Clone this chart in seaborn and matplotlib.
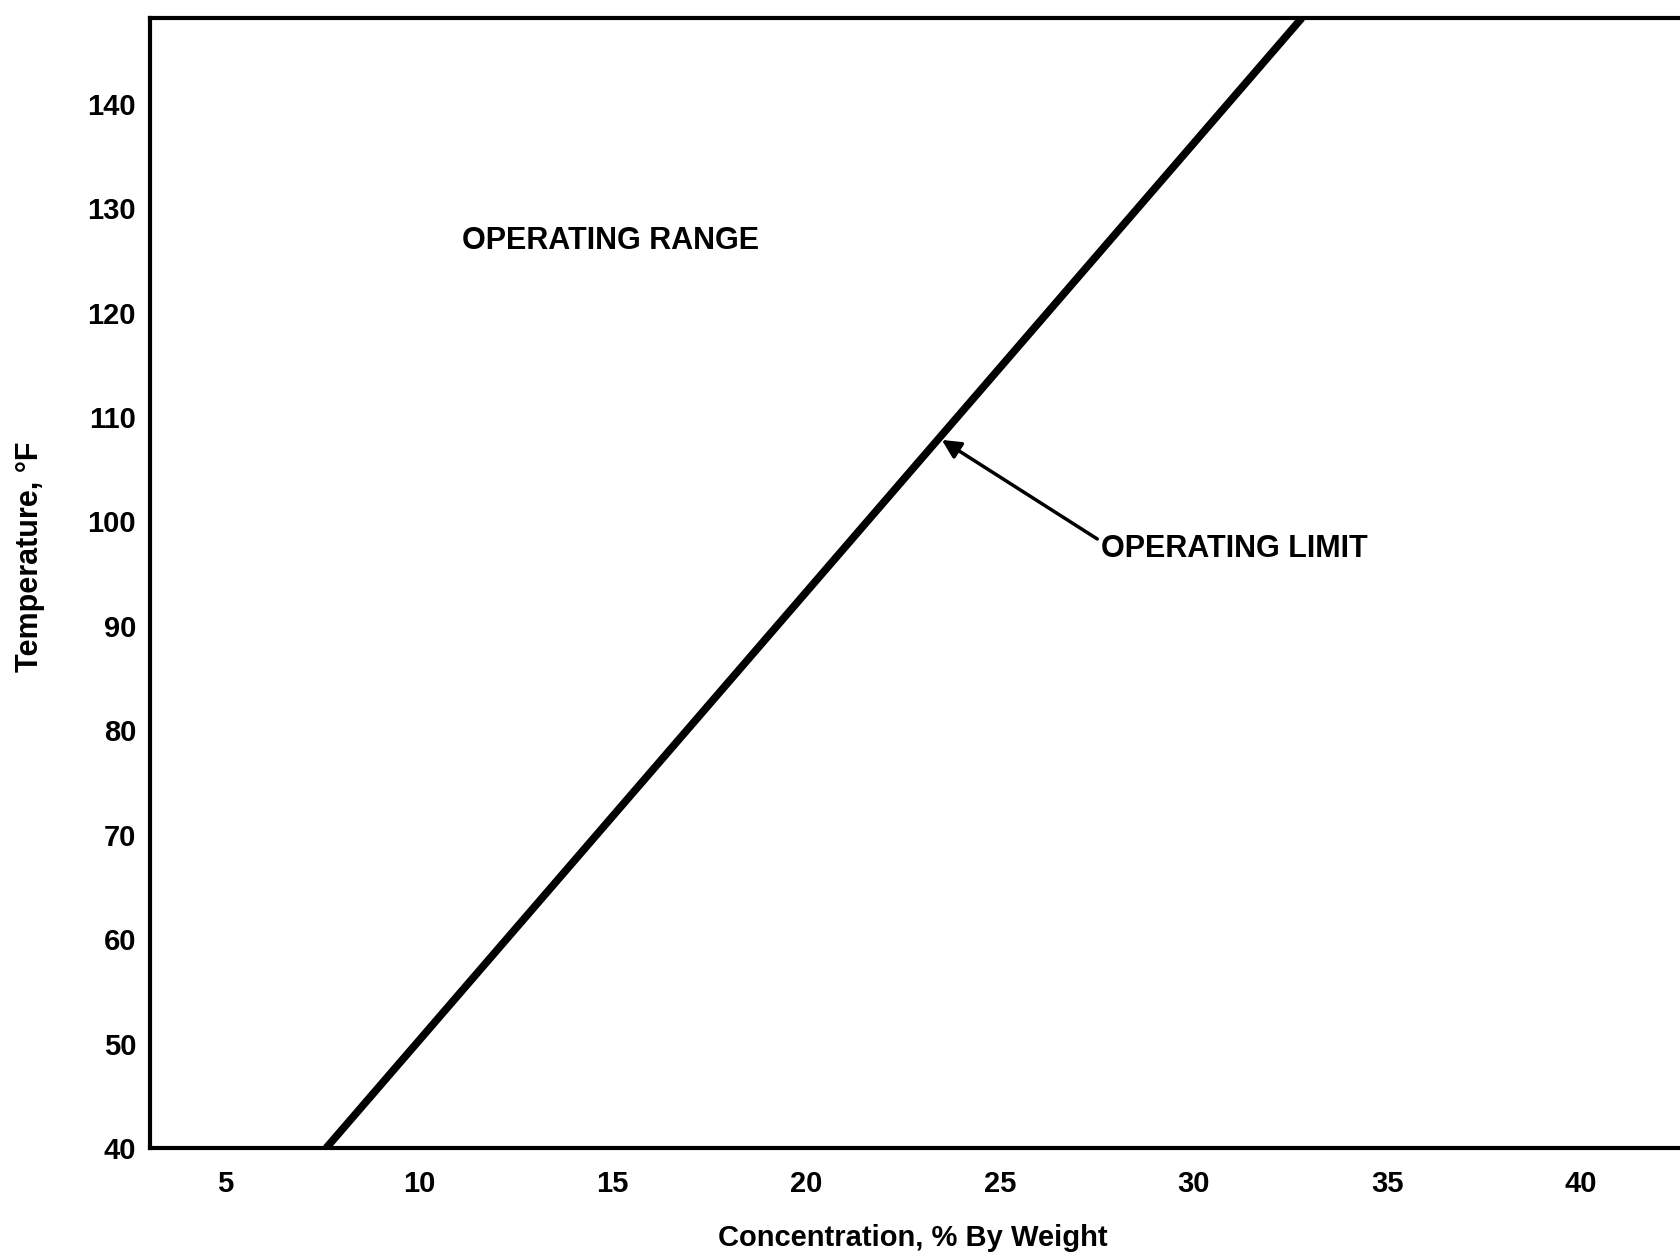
import matplotlib
matplotlib.use("Agg")
import matplotlib.pyplot as plt
import seaborn as sns
import pandas as pd

# Operating limit line (concentration % by weight vs temperature °F)
limit_conc = [7.6, 32.8]
limit_temp = [40, 148.2]

x_ticks = [5, 10, 15, 20, 25, 30, 35, 40]
y_ticks = [40, 50, 60, 70, 80, 90, 100, 110, 120, 130, 140]

arrow_tip = (23.5, 107.8)


def generate_plot():
    sns.set_theme(style="white")
    plt.rcParams['font.family'] = ['Liberation Sans', 'DejaVu Sans']
    plt.rcParams['font.weight'] = 'bold'
    plt.rcParams['text.color'] = 'black'
    plt.rcParams['axes.labelcolor'] = 'black'
    plt.rcParams['xtick.color'] = 'black'
    plt.rcParams['ytick.color'] = 'black'

    fig = plt.figure(figsize=(16.8, 12.55), dpi=100)
    ax = fig.add_axes([150 / 1680, 1 - 1148 / 1255, 1 - 150 / 1680 + 0.01, (1148 - 18) / 1255])

    df = pd.DataFrame({'conc': limit_conc, 'temp': limit_temp})
    sns.lineplot(data=df, x='conc', y='temp', color='black', linewidth=5.5,
                 solid_capstyle='butt', ax=ax)

    ax.set_xlim(3.05, 43.0)
    ax.set_ylim(40, 148.2)
    ax.set_xticks(x_ticks)
    ax.set_yticks(y_ticks)
    ax.tick_params(axis='both', length=0, labelsize=21)
    ax.tick_params(axis='x', pad=16)
    ax.tick_params(axis='y', pad=10)
    for lab in ax.get_xticklabels() + ax.get_yticklabels():
        lab.set_fontweight('bold')

    for side in ['left', 'top', 'bottom']:
        ax.spines[side].set_color('black')
        ax.spines[side].set_linewidth(3)
    ax.spines['right'].set_visible(False)

    ax.set_xlabel('Concentration, % By Weight', fontsize=21, fontweight='bold', va='center')
    ax.set_ylabel('Temperature, °F', fontsize=22, fontweight='bold', va='center')
    ax.xaxis.set_label_coords(0.493, -0.0795)
    ax.yaxis.set_label_coords(-0.0776, 0.523)

    ax.text(11.1, 126.8, 'OPERATING RANGE', fontsize=22, fontweight='bold',
            ha='left', va='center')
    ax.annotate('OPERATING LIMIT', xy=arrow_tip, xytext=(27.6, 97.4),
                fontsize=22, fontweight='bold', ha='left', va='center',
                arrowprops=dict(arrowstyle='-|>', color='black', lw=2.5,
                                mutation_scale=28, shrinkA=0, shrinkB=0,
                                relpos=(0.0, 0.75)))

    fig.savefig('out.png', dpi=100, facecolor='white')
    plt.close(fig)


if __name__ == '__main__':
    generate_plot()
